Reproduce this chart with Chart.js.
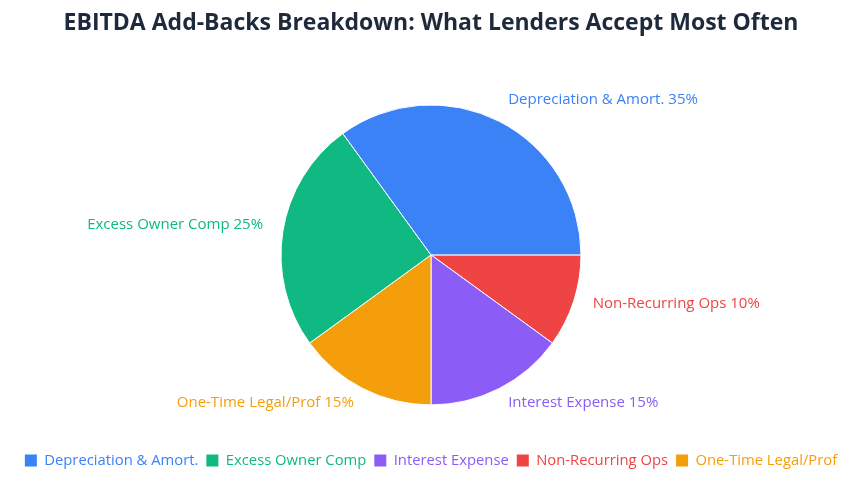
<!DOCTYPE html>
<html>
<head>
<meta charset="utf-8">
<script src="https://cdn.jsdelivr.net/npm/chart.js@4"></script>
<style>
    html, body { margin: 0; padding: 0; background: #ffffff; }
    #wrap { width: 853px; height: 482px; }
</style>
</head>
<body>
<div id="wrap"><canvas id="addBacksChart" width="853" height="482"></canvas></div>
<script>
// Slices listed clockwise from 3 o'clock, as they sit in the picture
const categories = ["Non-Recurring Ops", "Interest Expense", "One-Time Legal/Prof", "Excess Owner Comp", "Depreciation & Amort."];
const shares = [10, 15, 15, 25, 35];
const sliceColors = ["#ef4444", "#8b5cf6", "#f59e0b", "#10b981", "#3b82f6"];
// Order used by the legend row at the bottom
const legendOrder = ["Depreciation & Amort.", "Excess Owner Comp", "Interest Expense", "Non-Recurring Ops", "One-Time Legal/Prof"];

const FONT = "'Open Sans', 'Noto Sans', sans-serif";

// Draws "Name NN%" next to each slice, coloured like the slice
const outsideLabels = {
    id: "outsideLabels",
    afterDatasetsDraw(chart) {
        const ctx = chart.ctx;
        const meta = chart.getDatasetMeta(0);
        ctx.save();
        ctx.font = "15px " + FONT;
        ctx.textBaseline = "middle";
        meta.data.forEach((arc, i) => {
            const mid = (arc.startAngle + arc.endAngle) / 2;
            const r = arc.outerRadius + 20;
            const x = arc.x + Math.cos(mid) * r;
            const y = arc.y + Math.sin(mid) * r - 4;
            ctx.textAlign = Math.cos(mid) >= 0 ? "left" : "right";
            ctx.fillStyle = sliceColors[i];
            ctx.fillText(categories[i] + " " + shares[i] + "%", x, y);
        });
        ctx.restore();
    },
};

const data = {
    labels: categories,
    datasets: [
        {
            data: shares,
            backgroundColor: sliceColors,
            borderColor: "#ffffff",
            borderWidth: 1,
        },
    ],
};

const config = {
    type: "pie",
    data: data,
    options: {
        responsive: false,
        animation: false,
        rotation: 90,
        radius: 150,
        layout: {
            padding: { top: 0, bottom: 4, left: 9, right: 0 },
        },
        plugins: {
            title: {
                display: true,
                text: "EBITDA Add-Backs Breakdown: What Lenders Accept Most Often",
                color: "#1e293b",
                font: { family: FONT, size: 23, weight: "bold" },
                padding: { top: 10, bottom: 27 },
            },
            legend: {
                display: true,
                position: "bottom",
                labels: {
                    boxWidth: 12,
                    boxHeight: 12,
                    padding: 8,
                    font: { family: FONT, size: 14.8 },
                    generateLabels(chart) {
                        const items = Chart.overrides.pie.plugins.legend.labels.generateLabels(chart);
                        items.forEach((item) => {
                            item.fontColor = sliceColors[item.index];
                            item.strokeStyle = sliceColors[item.index];
                            item.lineWidth = 0;
                        });
                        return items;
                    },
                    sort(a, b) {
                        return legendOrder.indexOf(a.text) - legendOrder.indexOf(b.text);
                    },
                },
            },
            tooltip: { enabled: false },
        },
    },
    plugins: [outsideLabels],
};

const ctx = document.getElementById("addBacksChart").getContext("2d");
new Chart(ctx, config);
</script>
</body>
</html>
